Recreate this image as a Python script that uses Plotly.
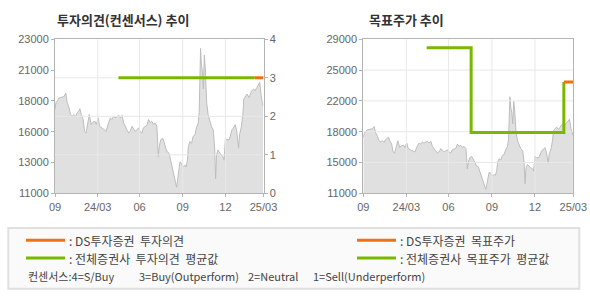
import plotly.graph_objects as go

# ---------------- data ----------------
price_day = [0, 2, 5, 8, 12, 16, 19, 23, 26, 30, 33, 37, 40, 44, 47, 51, 53, 56, 60, 63, 66, 70, 73, 77, 80,
             85, 88, 92, 95, 100, 105, 109, 114, 118, 121, 125, 128, 132, 136, 139, 143, 146, 150, 153, 157,
             160, 164, 167, 171, 174, 178, 181, 185, 188, 192, 196, 199, 203, 206, 210, 213, 217, 220, 222,
             225, 229, 232, 236, 239, 243, 246, 250, 252, 256, 259, 261, 264, 266, 270, 273, 277, 279, 282,
             284, 287, 291, 294, 298, 301, 305, 307, 308, 310, 312, 314, 316, 318, 320, 323, 326, 330, 333,
             337, 340, 342, 344, 347, 351, 354, 358, 360, 363, 366, 371, 373, 377, 380, 384, 387, 391, 393,
             397, 400, 402, 406, 409, 413, 416, 419, 423, 426, 430, 433, 436, 439, 443]
price = [17540, 18070, 18200, 18410, 18460, 18520, 18540, 18810, 18070, 17670, 17140, 17010, 17140, 16960,
         17280, 17410, 17590, 17140, 16750, 15830, 15690, 16490, 17140, 16350, 16540, 16620, 16350, 16880,
         16220, 16090, 15960, 15830, 16490, 16880, 16750, 17010, 16880, 17010, 17070, 16880, 17070, 16490,
         16090, 15960, 15690, 15830, 16220, 16090, 15830, 15960, 16090, 15830, 15690, 16090, 16220, 16270,
         16750, 16490, 16620, 16350, 16490, 16220, 13850, 14640, 15170, 15300, 15030, 14510, 14240, 14110,
         13580, 12930, 12530, 12000, 11470, 12000, 13190, 13450, 13320, 13060, 13190, 13060, 13580, 14640,
         15030, 14900, 15430, 15560, 16090, 16490, 17280, 18590, 22290, 20970, 20440, 19120, 21760, 20700,
         18070, 17140, 16620, 16220, 15960, 14510, 12130, 13980, 14380, 14110, 13980, 13850, 13580, 15300,
         15170, 15170, 15430, 15960, 16090, 16350, 15830, 14510, 15560, 16220, 17140, 18330, 18590, 18730,
         18460, 18730, 18990, 19120, 18990, 19250, 19440, 19650, 18590, 17800]

x_ticks = [0, 91, 180, 272, 363, 444]
x_labels = ["09", "24/03", "06", "09", "12", "25/03"]

# consensus opinion (1..4 scale)
cons_avg_day = [135, 425]
cons_avg_val = [3, 3]
cons_ds_day = [425, 444]
cons_ds_val = [3, 3]

# target price
tp_avg_day = [134, 228, 228, 424, 424]
tp_avg_val = [28000, 28000, 18100, 18100, 24000]
tp_ds_day = [424, 444]
tp_ds_val = [24000, 24000]

left_ticks = [11000, 13400, 15800, 18200, 20600, 23000]
left_labels = ["11000", "13000", "16000", "18000", "21000", "23000"]
right_ticks = [11000, 14600, 18200, 21800, 25400, 29000]
right_labels = ["11000", "15000", "18000", "22000", "25000", "29000"]
cons_ticks = [0, 1, 2, 3, 4]

ORANGE = "#f07014"
GREEN = "#7ab800"
AREA = "#e0e0e0"
AREA_LINE = "#bdbdbd"
GRID = "#e8e8e8"
FRAME = "#b4b4b4"
TXT = "#666666"

W, H = 590, 300
def px(x): return x / W
def py(y): return 1 - y / H

fig = go.Figure()

# ---- left chart ----
fig.add_trace(go.Scatter(x=price_day, y=price, xaxis="x", yaxis="y", mode="lines",
                         line=dict(color=AREA_LINE, width=1), fill="tozeroy", fillcolor=AREA,
                         hoverinfo="skip", showlegend=False))
gx, gy = [], []
for t in cons_ticks[1:-1]:
    gx += [0, 444, None]; gy += [t, t, None]
for t in x_ticks[1:-1]:
    gx += [t, t, None]; gy += [0, 4, None]
fig.add_trace(go.Scatter(x=gx, y=gy, xaxis="x", yaxis="y2", mode="lines",
                         line=dict(color=GRID, width=1), hoverinfo="skip", showlegend=False))
fig.add_trace(go.Scatter(x=cons_avg_day, y=cons_avg_val, xaxis="x", yaxis="y2", mode="lines",
                         line=dict(color=GREEN, width=3), hoverinfo="skip", showlegend=False))
fig.add_trace(go.Scatter(x=cons_ds_day, y=cons_ds_val, xaxis="x", yaxis="y2", mode="lines",
                         line=dict(color=ORANGE, width=3), hoverinfo="skip", showlegend=False))

# ---- right chart ----
fig.add_trace(go.Scatter(x=price_day, y=price, xaxis="x2", yaxis="y3", mode="lines",
                         line=dict(color=AREA_LINE, width=1), fill="tozeroy", fillcolor=AREA,
                         hoverinfo="skip", showlegend=False))
gx, gy = [], []
for t in right_ticks[1:-1]:
    gx += [0, 444, None]; gy += [t, t, None]
for t in x_ticks[1:-1]:
    gx += [t, t, None]; gy += [11000, 29000, None]
fig.add_trace(go.Scatter(x=gx, y=gy, xaxis="x2", yaxis="y3", mode="lines",
                         line=dict(color=GRID, width=1), hoverinfo="skip", showlegend=False))
fig.add_trace(go.Scatter(x=tp_avg_day, y=tp_avg_val, xaxis="x2", yaxis="y3", mode="lines",
                         line=dict(color=GREEN, width=3), hoverinfo="skip", showlegend=False))
fig.add_trace(go.Scatter(x=tp_ds_day, y=tp_ds_val, xaxis="x2", yaxis="y3", mode="lines",
                         line=dict(color=ORANGE, width=3), hoverinfo="skip", showlegend=False))

tickfont = dict(family="Liberation Sans, Arial, sans-serif", size=11, color=TXT)
ydom = [py(193.3), py(39.3)]
common_x = dict(range=[0, 444], tickmode="array", tickvals=x_ticks, ticktext=x_labels,
                showgrid=False, zeroline=False, showline=True, linecolor=FRAME, linewidth=1,
                mirror=True, ticks="outside", ticklen=3, tickcolor=FRAME, tickfont=tickfont,
                fixedrange=True, automargin=False)
fig.update_layout(
    width=W, height=H, margin=dict(l=0, r=0, t=0, b=0, pad=0, autoexpand=False),
    paper_bgcolor="white", plot_bgcolor="white", showlegend=False,
    xaxis=dict(domain=[px(55), px(263.5)], anchor="y", **common_x),
    xaxis2=dict(domain=[px(363.3), px(573.3)], anchor="y3", **common_x),
    yaxis=dict(domain=ydom, anchor="x", range=[11000, 23000], tickmode="array",
               tickvals=left_ticks, ticktext=left_labels, showgrid=False, zeroline=False,
               showline=True, linecolor=FRAME, mirror=True, ticks="outside", ticklen=3,
               tickcolor=FRAME, tickfont=tickfont, fixedrange=True, automargin=False),
    yaxis2=dict(overlaying="y", anchor="x", side="right", range=[0, 4], tickmode="array",
                tickvals=cons_ticks, showgrid=False, zeroline=False, showline=True,
                linecolor=FRAME, ticks="outside", ticklen=3, tickcolor=FRAME,
                tickfont=tickfont, fixedrange=True, automargin=False),
    yaxis3=dict(domain=ydom, anchor="x2", range=[11000, 29000], tickmode="array",
                tickvals=right_ticks, ticktext=right_labels, showgrid=False, zeroline=False,
                showline=True, linecolor=FRAME, mirror=True, ticks="outside", ticklen=3,
                tickcolor=FRAME, tickfont=tickfont, fixedrange=True, automargin=False),
)

titlefont = dict(family="Noto Sans CJK KR", size=13, color="#333333", weight="bold")
fig.add_annotation(text="투자의견(컨센서스) 추이", xref="paper", yref="paper", x=px(55), y=py(20),
                   xanchor="left", yanchor="middle", showarrow=False, font=titlefont)
fig.add_annotation(text="목표주가 추이", xref="paper", yref="paper", x=px(367), y=py(20),
                   xanchor="left", yanchor="middle", showarrow=False, font=titlefont)

# ---- legend box ----
fig.add_shape(type="rect", xref="paper", yref="paper", x0=px(8.3), x1=px(579.3), y0=py(288.7), y1=py(228),
              fillcolor="#fafafa", line=dict(color="#e0e0e0", width=2), layer="below")
legfont = dict(family="Noto Sans CJK KR", size=12, color="#444444")
leg_items = [
    (26, 65, 240.3, ORANGE, ": DS투자증권  투자의견"),
    (26, 65, 258.0, GREEN, ": 전체증권사  투자의견  평균값"),
    (357, 396, 240.3, ORANGE, ": DS투자증권  목표주가"),
    (357, 396, 258.0, GREEN, ": 전체증권사  목표주가  평균값"),
]
for x0, x1, yy, col, txt in leg_items:
    fig.add_shape(type="line", xref="paper", yref="paper", x0=px(x0), x1=px(x1), y0=py(yy), y1=py(yy),
                  line=dict(color=col, width=3))
    fig.add_annotation(text=txt.replace("  ", "\u00a0 "), xref="paper", yref="paper", x=px(x1 + 2), y=py(yy),
                       xanchor="left", yanchor="middle", showarrow=False, font=legfont)

row3 = [(26, "컨센서스:4=S/Buy"), (136.7, "3=Buy(Outperform)"), (246, "2=Neutral"),
        (310.7, "1=Sell(Underperform)")]
for xx, txt in row3:
    fig.add_annotation(text=txt, xref="paper", yref="paper", x=px(xx), y=py(276.3),
                       xanchor="left", yanchor="middle", showarrow=False,
                       font=dict(family="Noto Sans CJK KR", size=11, color="#444444"))

fig.write_html("out.html")
